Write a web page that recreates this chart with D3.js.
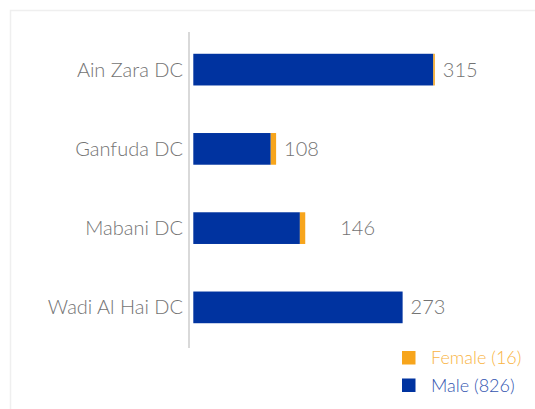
<!DOCTYPE html>
<html>
<head>
<meta charset="utf-8">
<script src="https://cdn.jsdelivr.net/npm/d3@7"></script>
<style>
  body { margin: 0; background: #fff; }
  text { font-family: "Lato", "Open Sans", sans-serif; font-weight: 300; }
</style>
</head>
<body>
<div id="chart"></div>
<script>
// categories and series
const categories = ["Ain Zara DC", "Ganfuda DC", "Mabani DC", "Wadi Al Hai DC"];
const male = [313, 101, 139, 273];
const female = [2, 7, 7, 0];
const seriesNames = ["Female", "Male"];

const width = 535, height = 409;
const blue = "#0033a0", orange = "#f7a51c";

const svg = d3.select("#chart")
  .append("svg")
  .attr("width", width)
  .attr("height", height);

// light frame round the chart
svg.append("rect")
  .attr("x", 10.5).attr("y", 10.5)
  .attr("width", 540).attr("height", 420)
  .attr("fill", "none")
  .attr("stroke", "#efefef")
  .attr("stroke-width", 1.5);

const rows = categories.map((c, i) => ({cat: c, male: male[i], female: female[i], total: male[i] + female[i]}));

const y = d3.scaleBand()
  .domain(categories)
  .range([30, 347])
  .paddingInner(0.6)
  .paddingOuter(0.3);

const x = d3.scaleLinear()
  .domain([0, 400])
  .range([193.3, 500]);

const stack = d3.stack().keys(["male", "female"]);
const layers = stack(rows);

svg.append("g")
  .selectAll("g")
  .data(layers)
  .join("g")
  .attr("fill", d => d.key === "male" ? blue : orange)
  .selectAll("rect")
  .data(d => d)
  .join("rect")
  .attr("x", d => x(d[0]))
  .attr("y", d => y(d.data.cat))
  .attr("width", d => x(d[1]) - x(d[0]))
  .attr("height", y.bandwidth());

// vertical axis line
svg.append("line")
  .attr("x1", 189).attr("x2", 189)
  .attr("y1", 32).attr("y2", 348)
  .attr("stroke", "#d9d9d9")
  .attr("stroke-width", 2);

// category labels
svg.append("g")
  .selectAll("text")
  .data(categories)
  .join("text")
  .attr("x", 183)
  .attr("y", d => y(d) + y.bandwidth() / 2)
  .attr("dy", "0.35em")
  .attr("text-anchor", "end")
  .attr("fill", "#737373")
  .style("font-size", "20px")
  .text(d => d);

// totals at the bar end (Mabani's label sits further out in the original)
svg.append("g")
  .selectAll("text")
  .data(rows)
  .join("text")
  .attr("x", d => x(d.total) + (d.cat === "Mabani DC" ? 35 : 8))
  .attr("y", d => y(d.cat) + y.bandwidth() / 2)
  .attr("dy", "0.35em")
  .attr("fill", "#737373")
  .style("font-size", "20px")
  .text(d => d.total);

// legend
const legendData = seriesNames.map(s => ({
  name: s,
  total: d3.sum(s === "Male" ? male : female),
  color: s === "Male" ? blue : orange,
  textColor: s === "Male" ? "#3355b0" : "#f9b443"
}));

const legend = svg.append("g")
  .selectAll("g")
  .data(legendData)
  .join("g")
  .attr("transform", (d, i) => `translate(402, ${351 + i * 27.5})`);

legend.append("rect")
  .attr("width", 13.5).attr("height", 13.5)
  .attr("fill", d => d.color);

legend.append("text")
  .attr("x", 29)
  .attr("y", 7)
  .attr("dy", "0.35em")
  .attr("fill", d => d.textColor)
  .style("font-size", "18px")
  .text(d => `${d.name} (${d.total})`);
</script>
</body>
</html>
